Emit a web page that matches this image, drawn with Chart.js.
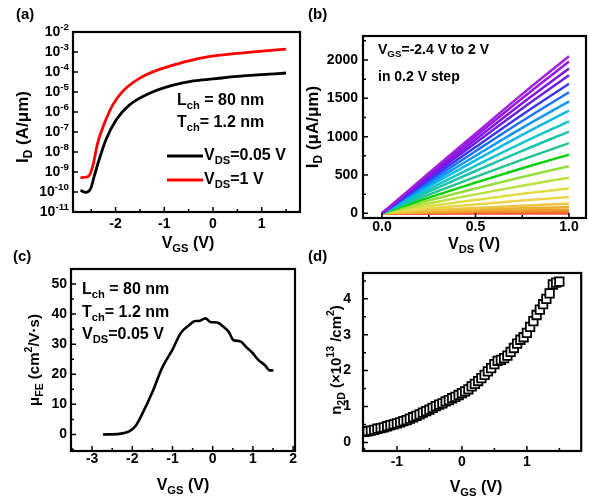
<!DOCTYPE html>
<html>
<head>
<meta charset="utf-8">
<script src="https://cdn.jsdelivr.net/npm/chart.js@4.4.1/dist/chart.umd.min.js"></script>
<style>
    body { margin: 0; background: #fff; }
    #wrap { position: relative; width: 589px; height: 500px; }
    #wrap canvas { position: absolute; left: 0; top: 0; }
</style>
</head>
<body>
<div id="wrap">
    <canvas id="chartA" width="589" height="500"></canvas>
    <canvas id="chartB" width="589" height="500"></canvas>
    <canvas id="chartC" width="589" height="500"></canvas>
    <canvas id="chartD" width="589" height="500"></canvas>
</div>
<script>
"use strict";

// (a) transfer curves, I_D in A/um
var vgsBlack = [-2.72, -2.61, -2.51, -2.44, -2.34, -2.2, -1.99, -1.72, -1.31, -0.82, -0.4, 0, 0.5, 1, 1.5];
var idBlack = [1.2e-10, 9.5e-11, 1.5e-10, 5.9e-10, 4e-9, 4e-8, 4e-7, 2.2e-6, 8.5e-6, 2.2e-5, 3.6e-5, 4.5e-5, 6e-5, 7.4e-5, 8.9e-5];
var vgsRed = [-2.72, -2.56, -2.47, -2.37, -2.23, -2.06, -1.86, -1.51, -1.1, -0.62, -0.2, 0.3, 0.9, 1.5];
var idRed = [5.2e-10, 5.9e-10, 1.9e-9, 2.7e-8, 2.7e-7, 2.2e-6, 1.05e-5, 4.8e-5, 1.35e-4, 3e-4, 5.2e-4, 7.6e-4, 1.05e-3, 1.4e-3];
var ticksAx = [-2, -1, 0, 1];
var ticksAy = [1e-11, 1e-10, 1e-9, 1e-8, 1e-7, 1e-6, 1e-5, 1e-4, 1e-3, 1e-2];

// (b) output curves, VGS = 2 V (top) down to -2.4 V (bottom), I_D in uA/um
var vdsB = [0, 0.25, 0.5, 0.75, 1];
var idB = [
    [0, 525, 1040, 1555, 2050],
    [0, 508, 1005, 1502, 1980],
    [0, 486, 962, 1436, 1890],
    [0, 464, 918, 1368, 1800],
    [0, 437, 864, 1286, 1690],
    [0, 410, 810, 1204, 1580],
    [0, 381, 750, 1114, 1460],
    [0, 351, 690, 1024, 1340],
    [0, 316, 620, 918, 1200],
    [0, 282, 552, 815, 1065],
    [0, 243, 476, 701, 915],
    [0, 205, 400, 588, 765],
    [0, 167, 324, 474, 615],
    [0, 128, 247, 360, 465],
    [0, 92, 175, 254, 325],
    [0, 62, 116, 167, 212],
    [0, 38, 70, 100, 126],
    [0, 25, 46, 65, 82],
    [0, 15, 27, 38, 48],
    [0, 8, 15, 21, 27],
    [0, 4, 7, 10, 12],
    [0, 1, 2, 3, 4],
    [0, 0, 1, 1, 1]
];
var colorsB = ["#a21ee0", "#9418e0", "#8214e2", "#6a1ee8", "#3a36f2", "#1a70ff", "#0c98fb", "#0cb8e4", "#10c4c8", "#18c4a8", "#20c490",
    "#08d00c", "#98dc3c", "#b8e040", "#e0dc44", "#ecd448", "#ecc440", "#eeb034", "#f09a2c", "#f28028", "#f46428", "#f84434", "#ff2020"];
var ticksBx = [0, 0.5, 1];
var ticksBy = [0, 500, 1000, 1500, 2000];

// (c) field-effect mobility
var vgsC = [-2.73, -2.32, -2.07, -1.91, -1.75, -1.5, -1.25, -1.0, -0.8, -0.59, -0.43, -0.35, -0.18, -0.06, 0.11, 0.27, 0.4, 0.52, 0.68, 0.85, 0.97, 1.14, 1.3, 1.42, 1.51];
var muC = [0, 0.2, 1.1, 3, 6.9, 14.1, 22.4, 28.2, 33.6, 36.3, 37.7, 37.7, 38.6, 37.4, 37.2, 35.8, 34.1, 31.3, 31, 28.8, 27.4, 24.7, 23, 21.3, 21.3];
var ticksCx = [-3, -2, -1, 0, 1, 2];
var ticksCy = [0, 10, 20, 30, 40, 50];

// (d) 2D carrier density, x 1e13 /cm2
var vgsD = [-1.5, -1.45, -1.4, -1.35, -1.3, -1.25, -1.2, -1.15, -1.1, -1.05, -1, -0.95, -0.9, -0.85, -0.8, -0.75, -0.7, -0.65, -0.6, -0.55,
    -0.5, -0.45, -0.4, -0.35, -0.3, -0.25, -0.2, -0.15, -0.1, -0.05, 0, 0.05, 0.1, 0.15, 0.2, 0.25, 0.3, 0.35, 0.4, 0.45,
    0.5, 0.55, 0.6, 0.65, 0.7, 0.75, 0.8, 0.85, 0.9, 0.95, 1, 1.05, 1.1, 1.15, 1.2, 1.25, 1.3, 1.35, 1.4, 1.45, 1.5];
var nD = [0.29, 0.31, 0.33, 0.35, 0.38, 0.4, 0.42, 0.45, 0.48, 0.5, 0.53, 0.56, 0.59, 0.62, 0.66, 0.7, 0.74, 0.78, 0.83, 0.87,
    0.91, 0.96, 1.01, 1.05, 1.09, 1.14, 1.18, 1.23, 1.27, 1.32, 1.37, 1.42, 1.48, 1.56, 1.63, 1.71, 1.79, 1.88, 1.98, 2.07,
    2.18, 2.27, 2.3, 2.35, 2.42, 2.52, 2.63, 2.75, 2.86, 2.93, 3.05, 3.22, 3.38, 3.55, 3.7, 3.85, 4.0, 4.15, 4.4, 4.45, 4.48];
var ticksDx = [-1, 0, 1];
var ticksDy = [0, 1, 2, 3, 4];

var FONT = "'Liberation Sans', Arial, sans-serif";

function pts(xs, ys) {
    return xs.map(function (x, i) { return { x: x, y: ys[i] }; });
}

// "V_{GS}" -> subscript, "cm^{2}" -> superscript
function richParts(text) {
    var parts = [], re = /([_^])\{([^}]*)\}/g, last = 0, m;
    while ((m = re.exec(text))) {
        if (m.index > last) parts.push({ t: text.slice(last, m.index), k: '' });
        parts.push({ t: m[2], k: m[1] });
        last = re.lastIndex;
    }
    if (last < text.length) parts.push({ t: text.slice(last), k: '' });
    return parts;
}

function drawRich(ctx, text, x, y, size, align, rot) {
    var parts = richParts(text), small = size * 0.7, w = 0;
    ctx.save();
    ctx.fillStyle = '#000';
    ctx.textBaseline = 'middle';
    ctx.textAlign = 'left';
    parts.forEach(function (p) {
        ctx.font = 'bold ' + (p.k ? small : size) + 'px ' + FONT;
        p.w = ctx.measureText(p.t).width;
        w += p.w;
    });
    ctx.translate(x, y);
    if (rot) ctx.rotate(-Math.PI / 2);
    var cx = align === 'center' ? -w / 2 : (align === 'right' ? -w : 0);
    parts.forEach(function (p) {
        ctx.font = 'bold ' + (p.k ? small : size) + 'px ' + FONT;
        var dy = p.k === '_' ? size * 0.32 : (p.k === '^' ? -size * 0.36 : 0);
        ctx.fillText(p.t, cx, dy);
        cx += p.w;
    });
    ctx.restore();
}

var panelPlugin = {
    id: 'panel',
    afterDatasetsDraw: function (chart, args, opts) {
        var ctx = chart.ctx, a = chart.chartArea;
        ctx.save();
        ctx.strokeStyle = '#000';
        ctx.lineWidth = 2.2;
        ctx.strokeRect(a.left, a.top, a.right - a.left, a.bottom - a.top);
        ctx.lineWidth = 1.5;
        ['x', 'y'].forEach(function (id) {
            var s = chart.scales[id], vals = s.ticks.map(function (t) { return t.value; });
            var marks = vals.map(function (v) { return { v: v, len: 5 }; });
            if (s.type !== 'logarithmic') {
                var step = vals[1] - vals[0];
                for (var v = vals[0] - step / 2; v < s.max; v += step) {
                    if (v > s.min) marks.push({ v: v, len: 3 });
                }
            }
            ctx.beginPath();
            marks.forEach(function (mk) {
                var p = s.getPixelForValue(mk.v);
                if (id === 'x') { ctx.moveTo(p, a.bottom); ctx.lineTo(p, a.bottom - mk.len); }
                else { ctx.moveTo(a.left, p); ctx.lineTo(a.left + mk.len, p); }
            });
            ctx.stroke();
        });
        ctx.restore();
    },
    afterDraw: function (chart, args, opts) {
        var ctx = chart.ctx, a = chart.chartArea;
        if (opts.logLabels) {
            var sy = chart.scales.y;
            sy.ticks.forEach(function (t) {
                var e = Math.round(Math.log10(t.value));
                drawRich(ctx, '10^{' + e + '}', a.left - 4, sy.getPixelForValue(t.value), 14, 'right');
            });
        }
        (opts.lines || []).forEach(function (l) {
            ctx.save();
            ctx.strokeStyle = l.color;
            ctx.lineWidth = 3;
            ctx.beginPath();
            ctx.moveTo(l.x1, l.y);
            ctx.lineTo(l.x2, l.y);
            ctx.stroke();
            ctx.restore();
        });
        (opts.texts || []).forEach(function (t) {
            drawRich(ctx, t.t, t.x, t.y, t.size || 15, t.align || 'left', t.rot);
        });
    }
};

function axis(type, min, max, tickVals, pad, fmt, display) {
    return {
        type: type,
        min: min,
        max: max,
        grid: { display: false, drawTicks: false },
        border: { display: false },
        afterBuildTicks: function (s) { s.ticks = tickVals.map(function (v) { return { value: v }; }); },
        afterFit: function (s) { if (s.isHorizontal()) s.height = 40; else s.width = 60; },
        ticks: {
            display: display !== false,
            padding: pad,
            autoSkip: false,
            maxRotation: 0,
            color: '#000',
            font: { family: FONT, size: 14, weight: 'bold' },
            callback: fmt || function (v) { return String(v); }
        }
    };
}

// box: [left, top, right, bottom] of the plot frame on the page
function makeChart(id, box, datasets, scales, panelOpts) {
    return new Chart(document.getElementById(id), {
        type: 'scatter',
        data: { datasets: datasets },
        plugins: [panelPlugin],
        options: {
            responsive: false,
            animation: false,
            events: [],
            layout: { padding: { left: box[0] - 60, top: box[1], right: 589 - box[2], bottom: 500 - box[3] - 40 } },
            plugins: { legend: { display: false }, tooltip: { enabled: false }, panel: panelOpts },
            scales: scales
        }
    });
}

function lineSet(xs, ys, color, width) {
    return {
        data: pts(xs, ys),
        showLine: true,
        borderColor: color,
        borderWidth: width,
        pointRadius: 0,
        fill: false,
        cubicInterpolationMode: 'monotone'
    };
}

// (a)
makeChart('chartA', [73, 32, 300, 212], [
    lineSet(vgsBlack, idBlack, '#000', 2.8),
    lineSet(vgsRed, idRed, '#ff0000', 2.8)
], {
    x: axis('linear', -2.874, 1.786, ticksAx, 4),
    y: axis('logarithmic', 1e-11, 1e-2, ticksAy, 4, null, false)
}, {
    logLabels: true,
    lines: [{ x1: 167, x2: 203, y: 156, color: '#000' }, { x1: 167, x2: 203, y: 180, color: '#ff0000' }],
    texts: [
        { t: '(a)', x: 16, y: 15 },
        { t: 'I_{D} (A/μm)', x: 23, y: 127, size: 17, align: 'center', rot: true },
        { t: 'V_{GS} (V)', x: 188, y: 244, size: 16, align: 'center' },
        { t: 'L_{ch} = 80 nm', x: 177, y: 101, size: 16 },
        { t: 'T_{ch}= 1.2 nm', x: 177, y: 123, size: 16 },
        { t: 'V_{DS}=0.05 V', x: 204, y: 156, size: 16 },
        { t: 'V_{DS}=1 V', x: 204, y: 180, size: 16 }
    ]
});

// (b)
makeChart('chartB', [363, 36, 586, 218], idB.map(function (row, i) {
    return lineSet(vdsB, row, colorsB[i], 2.5);
}), {
    x: axis('linear', -0.1016, 1.0909, ticksBx, 1, function (v) { return v.toFixed(1); }),
    y: axis('linear', -61, 2313, ticksBy, 5)
}, {
    texts: [
        { t: '(b)', x: 308, y: 15 },
        { t: 'I_{D} (μA/μm)', x: 313, y: 127, size: 17, align: 'center', rot: true },
        { t: 'V_{DS} (V)', x: 474, y: 245, size: 16, align: 'center' },
        { t: 'V_{GS}=-2.4 V to 2 V', x: 378, y: 50, size: 14 },
        { t: 'in 0.2 V step', x: 378, y: 77, size: 14 }
    ]
});

// (c)
makeChart('chartC', [71, 269, 295, 451], [
    lineSet(vgsC, muC, '#000', 2.6)
], {
    x: axis('linear', -3.525, 2.047, ticksCx, 0),
    y: axis('linear', -5.5, 55, ticksCy, 4)
}, {
    texts: [
        { t: '(c)', x: 13, y: 257 },
        { t: 'μ_{FE} (cm^{2}/V·s)', x: 35, y: 360, size: 15, align: 'center', rot: true },
        { t: 'V_{GS} (V)', x: 183, y: 486, size: 16, align: 'center' },
        { t: 'L_{ch} = 80 nm', x: 82, y: 290, size: 16 },
        { t: 'T_{ch}= 1.2 nm', x: 82, y: 313, size: 16 },
        { t: 'V_{DS}=0.05 V', x: 82, y: 335, size: 16 }
    ]
});

// (d)
makeChart('chartD', [363, 273, 588, 451], [{
    data: pts(vgsD, nD),
    showLine: false,
    pointStyle: 'rect',
    pointRadius: 6,
    pointBackgroundColor: '#fff',
    pointBorderColor: '#000',
    pointBorderWidth: 1.8
}], {
    x: axis('linear', -1.522, 1.836, ticksDx, 3),
    y: axis('linear', -0.24, 4.72, ticksDy, 12)
}, {
    texts: [
        { t: '(d)', x: 308, y: 257 },
        { t: 'n_{2D} (×10^{13} /cm^{2})', x: 337, y: 360, size: 15, align: 'center', rot: true },
        { t: 'V_{GS} (V)', x: 476, y: 488, size: 16, align: 'center' }
    ]
});
</script>
</body>
</html>
